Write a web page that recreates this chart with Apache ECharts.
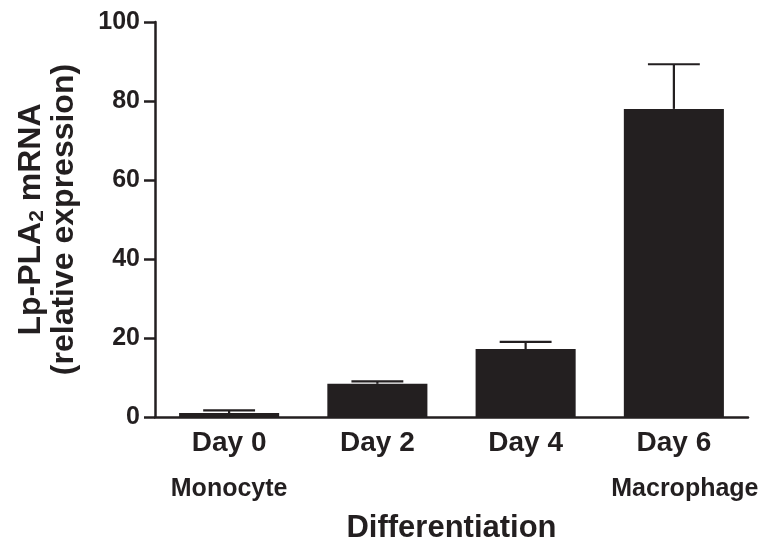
<!DOCTYPE html>
<html>
<head>
<meta charset="utf-8">
<script src="https://cdn.jsdelivr.net/npm/echarts@6/dist/echarts.min.js"></script>
<style>
html,body{margin:0;padding:0;background:#fff;}
#chart{width:776px;height:553px;}
</style>
</head>
<body>
<div id="chart"></div>
<script>
var categories = ['Day 0', 'Day 2', 'Day 4', 'Day 6'];
var subLabels = ['Monocyte', '', '', 'Macrophage'];
var means = [1.0, 8.4, 17.2, 78.0];
var errors = [0.7, 0.6, 1.8, 11.3];
var yTicks = [0, 20, 40, 60, 80, 100];

var INK = '#231f20';
var FONT = '"Liberation Sans", Arial, Helvetica, sans-serif';

var chart = echarts.init(document.getElementById('chart'), null, {renderer: 'canvas'});

var option = {
  animation: false,
  backgroundColor: '#ffffff',
  grid: {left: 155, right: 28, top: 22, bottom: 136, containLabel: false, outerBoundsMode: 'none'},
  xAxis: {
    type: 'category',
    data: categories,
    axisLine: {lineStyle: {color: INK, width: 2.5}},
    axisTick: {show: false},
    axisLabel: {
      interval: 0,
      hideOverlap: false,
      margin: 9,
      color: INK,
      fontFamily: FONT,
      fontWeight: 'bold',
      fontSize: 28,
      lineHeight: 34,
      formatter: function (v, i) {
        var s = subLabels[i];
        if (!s) return v;
        return v + '\n{' + (i === 3 ? 'mr' : 'm') + '|' + s + '}';
      },
      rich: {
        m: {fontFamily: FONT, fontWeight: 'bold', fontSize: 25, lineHeight: 58, color: INK},
        mr: {fontFamily: FONT, fontWeight: 'bold', fontSize: 25, lineHeight: 58, color: INK, padding: [0, 0, 0, 22]}
      }
    },
    name: 'Differentiation',
    nameLocation: 'middle',
    nameGap: 96,
    nameMoveOverlap: false,
    nameTextStyle: {color: INK, fontFamily: FONT, fontWeight: 'bold', fontSize: 31}
  },
  yAxis: {
    type: 'value',
    min: 0,
    max: 100,
    interval: 20,
    splitLine: {show: false},
    axisLine: {show: true, lineStyle: {color: INK, width: 2.5}},
    axisTick: {show: true, length: 11, lineStyle: {color: INK, width: 2.5}},
    axisLabel: {
      margin: 15,
      color: INK,
      fontFamily: FONT,
      fontWeight: 'bold',
      fontSize: 25,
      formatter: function (v) { return yTicks.indexOf(v) >= 0 ? String(v) : ''; }
    },
    name: 'Lp-PLA{sub|2} mRNA\n(relative expression)',
    nameLocation: 'middle',
    nameRotate: 90,
    nameGap: 74,
    nameMoveOverlap: false,
    nameTextStyle: {
      color: INK, fontFamily: FONT, fontWeight: 'bold', fontSize: 32, lineHeight: 33,
      rich: {
        sub: {color: INK, fontFamily: FONT, fontWeight: 'bold', fontSize: 21, lineHeight: 33, padding: [12, 0, 0, 0]}
      }
    }
  },
  series: [
    {
      type: 'bar',
      data: means,
      barWidth: '67.5%',
      itemStyle: {color: INK},
      z: 2
    },
    {
      type: 'custom',
      z: 3,
      data: means.map(function (m, i) { return [i, m, errors[i]]; }),
      renderItem: function (params, api) {
        var i = api.value(0);
        var m = api.value(1);
        var e = api.value(2);
        var base = api.coord([i, m]);
        var top = api.coord([i, m + e]);
        var half = api.size([1, 0])[0] * 0.175;
        var style = {stroke: INK, lineWidth: 2.2};
        return {
          type: 'group',
          children: [
            {type: 'line', shape: {x1: base[0], y1: base[1], x2: top[0], y2: top[1]}, style: style},
            {type: 'line', shape: {x1: top[0] - half, y1: top[1], x2: top[0] + half, y2: top[1]}, style: style}
          ]
        };
      }
    }
  ]
};

chart.setOption(option);
</script>
</body>
</html>
